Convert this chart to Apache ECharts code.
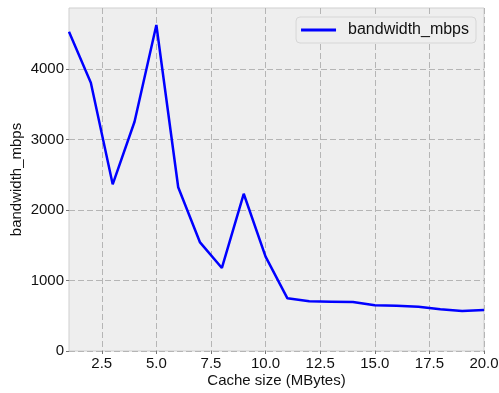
<!DOCTYPE html>
<html>
<head>
<meta charset="utf-8">
<script src="https://cdn.jsdelivr.net/npm/echarts@6/dist/echarts.min.js"></script>
<style>
    html, body { margin: 0; padding: 0; background: #ffffff; }
    #chart { width: 499px; height: 393px; }
</style>
</head>
<body>
<div id="chart"></div>
<script>
(function () {
    'use strict';

    // cache size in MBytes
    var cacheSizes = [1, 2, 3, 4, 5, 6, 7, 8, 9, 10, 11, 12, 13, 14, 15, 16, 17, 18, 19, 20];
    // measured bandwidth
    var bandwidthMbps = [4529, 3806, 2364, 3252, 4624, 2322, 1540, 1178, 2230, 1338,
        747, 705, 700, 695, 648, 643, 629, 591, 567, 582];
    var xTicks = [2.5, 5.0, 7.5, 10.0, 12.5, 15.0, 17.5, 20.0];
    var yTicks = [0, 1000, 2000, 3000, 4000];

    var font = '"Liberation Sans", Arial, Helvetica, sans-serif';
    var gridLine = { show: true, lineStyle: { color: '#b5b5b5', width: 1, type: [6, 3] } };

    var points = cacheSizes.map(function (c, i) {
        return [c, bandwidthMbps[i]];
    });

    var chart = echarts.init(document.getElementById('chart'), null, { renderer: 'canvas' });
    chart.setOption({
        animation: false,
        backgroundColor: '#ffffff',
        textStyle: { fontFamily: font },
        grid: {
            left: 69, top: 8, right: 15, bottom: 42,
            outerBoundsMode: 'none',
            containLabel: false,
            show: true,
            backgroundColor: '#eeeeee',
            borderColor: '#cfcfcf',
            borderWidth: 1
        },
        legend: {
            right: 23,
            top: 17,
            padding: [5, 7, 5, 5],
            backgroundColor: '#eeeeee',
            borderColor: '#d6d6d6',
            borderWidth: 1,
            borderRadius: 4,
            icon: 'rect',
            itemWidth: 35,
            itemHeight: 3,
            textStyle: { fontSize: 16, color: '#111111', fontFamily: font, padding: [0, 0, 0, 7] },
            data: ['bandwidth_mbps']
        },
        xAxis: {
            type: 'value',
            min: 1,
            max: 20,
            name: 'Cache size (MBytes)',
            nameLocation: 'middle',
            nameGap: 22,
            nameMoveOverlap: false,
            nameTextStyle: { fontSize: 15, color: '#111111', fontFamily: font },
            axisLine: { show: false },
            axisTick: { show: true, length: 3, customValues: xTicks, lineStyle: { color: '#777777' } },
            axisLabel: {
                customValues: xTicks,
                margin: 5,
                fontSize: 15,
                color: '#111111',
                fontFamily: font,
                formatter: function (v) { return v.toFixed(1); }
            },
            splitLine: gridLine
        },
        yAxis: {
            type: 'value',
            min: 0,
            max: 4865,
            name: 'bandwidth_mbps',
            nameLocation: 'middle',
            nameGap: 45,
            nameRotate: 90,
            nameMoveOverlap: false,
            nameTextStyle: { fontSize: 15, color: '#111111', fontFamily: font },
            axisLine: { show: false },
            axisTick: { show: true, length: 3, customValues: yTicks, lineStyle: { color: '#777777' } },
            axisLabel: {
                customValues: yTicks,
                margin: 5,
                fontSize: 15,
                color: '#111111',
                fontFamily: font,
                formatter: function (v) { return String(v); }
            },
            splitLine: gridLine
        },
        series: [{
            name: 'bandwidth_mbps',
            type: 'line',
            data: points,
            showSymbol: false,
            symbol: 'none',
            lineStyle: { color: '#0000ff', width: 2.5 },
            itemStyle: { color: '#0000ff' }
        }]
    });
})();
</script>
</body>
</html>
